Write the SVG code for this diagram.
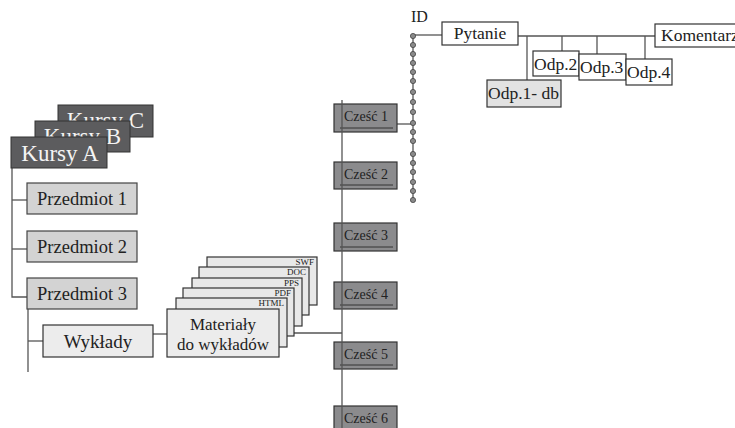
<svg xmlns="http://www.w3.org/2000/svg" width="735" height="428" viewBox="0 0 735 428" font-family="'Liberation Serif', 'DejaVu Serif', serif">
<style>
text{font-family:'Liberation Serif','DejaVu Serif',serif;fill:#222}
.ln{stroke:#555;stroke-width:1.3;fill:none}
.kur rect{fill:#5c5c5e;stroke:#333;stroke-width:1}
.kur text{fill:#f4f4f4;font-size:23px}
.prz rect{fill:#d3d3d3;stroke:#444;stroke-width:1.2}
.prz text{font-size:18.5px}
.lt rect{fill:#ececec;stroke:#333;stroke-width:1.2}
.lt text{font-size:17px}
.ft rect{fill:#e8e8e8;stroke:#333;stroke-width:1.2}
.ft text{font-size:9px}
.cz rect{fill:#8b8b8d;stroke:#333;stroke-width:1.2}
.cz text{font-size:14px;fill:#222}
.cz line{stroke:#333;stroke-width:1}
.wb rect{fill:#fff;stroke:#333;stroke-width:1.2}
.wb text{font-size:17.5px}
.dot{fill:#8a8a8a;stroke:#444;stroke-width:0.8}
</style>

<g id="connectors">
<polyline class="ln" points="12,168 12,297 27,297"/>
<line class="ln" x1="12" y1="200" x2="27" y2="200"/>
<line class="ln" x1="12" y1="249" x2="27" y2="249"/>
<polyline class="ln" points="28,309 28,372"/>
<line class="ln" x1="28" y1="341" x2="43" y2="341"/>
<line class="ln" x1="153" y1="334" x2="167" y2="334"/>
<line class="ln" x1="279" y1="333" x2="342" y2="333"/>
<line class="ln" x1="397" y1="124" x2="413" y2="124"/>
<line class="ln" x1="413" y1="36" x2="413" y2="200"/>
<line class="ln" x1="413" y1="35" x2="442" y2="35"/>
<line class="ln" x1="518" y1="36" x2="655" y2="36"/>
<line class="ln" x1="527" y1="36" x2="527" y2="80"/>
<line class="ln" x1="562" y1="36" x2="562" y2="51"/>
<line class="ln" x1="597" y1="36" x2="597" y2="54"/>
<line class="ln" x1="645" y1="36" x2="645" y2="59"/>
</g>

<g id="kursy-c" class="kur"><rect x="58" y="105" width="95" height="32"/><text x="105.5" y="128" text-anchor="middle">Kursy C</text></g>
<g id="kursy-b" class="kur"><rect x="35" y="121" width="95" height="31"/><text x="82.5" y="144" text-anchor="middle">Kursy B</text></g>
<g id="kursy-a" class="kur"><rect x="11" y="137" width="96" height="31"/><text x="60" y="161" text-anchor="middle">Kursy A</text></g>

<g id="przedmiot-1" class="prz"><rect x="27" y="183" width="110" height="31"/><text x="82" y="205" text-anchor="middle">Przedmiot 1</text></g>
<g id="przedmiot-2" class="prz"><rect x="27" y="231" width="110" height="31"/><text x="82" y="253" text-anchor="middle">Przedmiot 2</text></g>
<g id="przedmiot-3" class="prz"><rect x="27" y="278" width="110" height="31"/><text x="82" y="300" text-anchor="middle">Przedmiot 3</text></g>

<g id="wyklady" class="lt"><rect x="43" y="325" width="110" height="32"/><text x="98" y="348" text-anchor="middle" style="font-size:19px">Wykłady</text></g>

<g id="swf" class="ft"><rect x="207" y="257" width="110" height="48"/><text x="314" y="265" text-anchor="end">SWF</text></g>
<g id="doc" class="ft"><rect x="199" y="267" width="110" height="48"/><text x="306" y="275" text-anchor="end">DOC</text></g>
<g id="pps" class="ft"><rect x="192" y="278" width="110" height="48"/><text x="299" y="286" text-anchor="end">PPS</text></g>
<g id="pdf" class="ft"><rect x="183" y="288" width="111" height="48"/><text x="291" y="296" text-anchor="end">PDF</text></g>
<g id="html" class="ft"><rect x="176" y="298" width="111" height="49"/><text x="284" y="306" text-anchor="end">HTML</text></g>
<g id="materialy" class="lt"><rect x="167" y="309" width="112" height="48"/><text x="223" y="330" text-anchor="middle">Materiały</text><text x="223" y="350" text-anchor="middle">do wykładów</text></g>

<g id="czesc-1" class="cz"><rect x="334" y="104" width="63" height="28"/><text x="366" y="121" text-anchor="middle">Cześć 1</text><line x1="340" y1="128" x2="393" y2="128"/></g>
<g id="czesc-2" class="cz"><rect x="334" y="162" width="63" height="27"/><text x="366" y="179" text-anchor="middle">Cześć 2</text><line x1="340" y1="185" x2="393" y2="185"/></g>
<g id="czesc-3" class="cz"><rect x="334" y="223" width="63" height="28"/><text x="366" y="240" text-anchor="middle">Cześć 3</text><line x1="340" y1="247" x2="393" y2="247"/></g>
<g id="czesc-4" class="cz"><rect x="334" y="282" width="63" height="27"/><text x="366" y="299" text-anchor="middle">Cześć 4</text><line x1="340" y1="305" x2="393" y2="305"/></g>
<g id="czesc-5" class="cz"><rect x="334" y="342" width="63" height="27"/><text x="366" y="359" text-anchor="middle">Cześć 5</text><line x1="340" y1="365" x2="393" y2="365"/></g>
<g id="czesc-6" class="cz"><rect x="334" y="406" width="63" height="28"/><text x="366" y="423" text-anchor="middle">Cześć 6</text><line x1="340" y1="429" x2="393" y2="429"/></g>

<g id="czesc-spine"><line class="ln" x1="342" y1="100" x2="342" y2="428"/></g>

<g id="id-chain">
<text x="411" y="22" font-size="16">ID</text>
<circle class="dot" cx="413" cy="36" r="2.6"/><circle class="dot" cx="413" cy="45" r="2.6"/><circle class="dot" cx="413" cy="54" r="2.6"/><circle class="dot" cx="413" cy="63" r="2.6"/><circle class="dot" cx="413" cy="72" r="2.6"/><circle class="dot" cx="413" cy="81" r="2.6"/><circle class="dot" cx="413" cy="92" r="2.6"/><circle class="dot" cx="413" cy="102" r="2.6"/><circle class="dot" cx="413" cy="112" r="2.6"/><circle class="dot" cx="413" cy="123" r="2.6"/><circle class="dot" cx="413" cy="132" r="2.6"/><circle class="dot" cx="413" cy="141" r="2.6"/><circle class="dot" cx="413" cy="154" r="2.6"/><circle class="dot" cx="413" cy="163" r="2.6"/><circle class="dot" cx="413" cy="172" r="2.6"/><circle class="dot" cx="413" cy="182" r="2.6"/><circle class="dot" cx="413" cy="191" r="2.6"/><circle class="dot" cx="413" cy="200" r="2.6"/>
</g>

<g id="pytanie" class="wb"><rect x="442" y="22" width="76" height="23"/><text x="480" y="39" text-anchor="middle">Pytanie</text></g>
<g id="komentarz" class="wb"><rect x="655" y="24" width="90" height="23"/><text x="661" y="41">Komentarz</text></g>
<g id="odp-1" class="wb"><rect x="487" y="80" width="74" height="27" style="fill:#e2e2e2"/><text x="488" y="99">Odp.1- db</text></g>
<g id="odp-2" class="wb"><rect x="533" y="51" width="46" height="25"/><text x="534" y="70">Odp.2</text></g>
<g id="odp-3" class="wb"><rect x="579" y="54" width="47" height="26"/><text x="580" y="73">Odp.3</text></g>
<g id="odp-4" class="wb"><rect x="626" y="59" width="46" height="26"/><text x="627" y="78">Odp.4</text></g>
</svg>
